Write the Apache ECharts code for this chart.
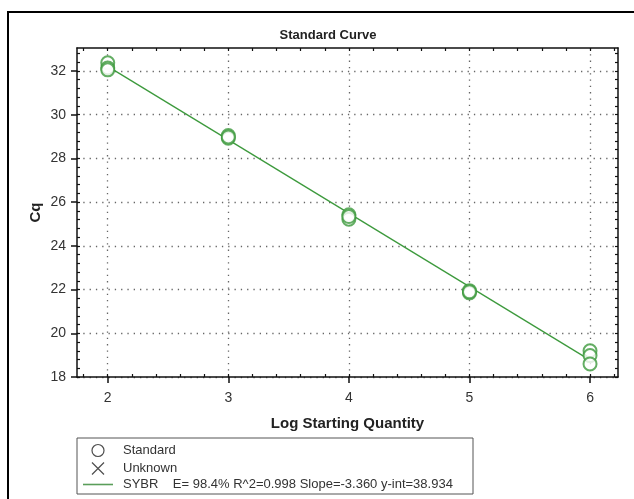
<!DOCTYPE html>
<html>
<head>
<meta charset="utf-8">
<script src="https://cdn.jsdelivr.net/npm/echarts@6/dist/echarts.min.js"></script>
<style>
html,body{margin:0;padding:0;background:#fff;}
#chart{width:634px;height:499px;}
</style>
</head>
<body>
<div id="chart"></div>
<script>
// ---- data ----
var stdX = [2, 2, 2, 3, 3, 3, 4, 4, 4, 5, 5, 5, 6, 6, 6];
var stdCq = [32.37, 32.14, 32.05, 29.05, 28.92, 28.98, 25.42, 25.22, 25.34, 21.95, 21.85, 21.9, 19.2, 18.98, 18.6];
var fitX = [2, 6];
var fitCq = [32.21, 18.77];
var xTicks = [2, 3, 4, 5, 6];
var yTicks = [18, 20, 22, 24, 26, 28, 30, 32];
var fitLabel = 'SYBR    E= 98.4% R^2=0.998 Slope=-3.360 y-int=38.934';

var X_MIN = 1.745, X_MAX = 6.232, Y_MIN = 18, Y_MAX = 33.05;
var xMinor = [], yMinor = [];
for (var i = 0; i <= 22; i++) xMinor.push(+(1.8 + i * 0.2).toFixed(2));
for (var j = 0; j <= 37; j++) yMinor.push(+(18 + j * 0.4).toFixed(2));

var FONT = '"Liberation Sans", Arial, sans-serif';
var GREEN = '#3d9a3d';

var stdData = stdX.map(function (x, k) { return [x, stdCq[k]]; });
var fitData = fitX.map(function (x, k) { return [x, fitCq[k]]; });

function hAxis(pos, opt) {
  return Object.assign({
    type: 'value', position: pos, min: X_MIN, max: X_MAX,
    axisLine: { show: true, onZero: false, lineStyle: { color: '#111', width: 1.5 } },
    axisLabel: { show: false }, axisTick: { show: false },
    splitLine: { show: false }
  }, opt);
}
function vAxis(pos, opt) {
  return Object.assign({
    type: 'value', position: pos, min: Y_MIN, max: Y_MAX,
    axisLine: { show: true, onZero: false, lineStyle: { color: '#111', width: 1.5 } },
    axisLabel: { show: false }, axisTick: { show: false },
    splitLine: { show: false }
  }, opt);
}
var gridLine = { show: true, lineStyle: { color: '#666', width: 1.3, type: [1.3, 5] } };

var chart = echarts.init(document.getElementById('chart'), null, { renderer: 'canvas' });
chart.setOption({
  backgroundColor: '#fff',
  animation: false,
  title: {
    text: 'Standard Curve', left: 323, top: 24, textAlign: 'center',
    textStyle: { fontFamily: FONT, fontSize: 13, fontWeight: 'bold', color: '#222' }
  },
  grid: { left: 77, right: 16, top: 48, bottom: 122, containLabel: false },
  xAxis: [
    hAxis('bottom', {
      name: 'Log Starting Quantity', nameLocation: 'middle', nameGap: 39,
      nameTextStyle: { fontFamily: FONT, fontSize: 15, fontWeight: 'bold', color: '#222' },
      axisLabel: { show: true, customValues: xTicks, fontFamily: FONT, fontSize: 14, color: '#333', margin: 14 },
      axisTick: { show: true, customValues: xTicks, inside: false, length: 6, lineStyle: { color: '#111', width: 1.5 } },
      splitLine: Object.assign({ customValues: xTicks }, gridLine)
    }),
    hAxis('bottom', {
      axisLine: { show: false },
      axisTick: { show: true, customValues: xMinor, inside: true, length: 3, lineStyle: { color: '#111', width: 1.2 } }
    }),
    hAxis('top', {
      axisTick: { show: true, customValues: xMinor, inside: true, length: 3, lineStyle: { color: '#111', width: 1.2 } }
    })
  ],
  yAxis: [
    vAxis('left', {
      name: 'Cq', nameLocation: 'middle', nameGap: 34, nameRotate: 90, nameMoveOverlap: false,
      nameTextStyle: { fontFamily: FONT, fontSize: 15, fontWeight: 'bold', color: '#222' },
      axisLabel: { show: true, customValues: yTicks, fontFamily: FONT, fontSize: 14, color: '#333', margin: 11 },
      axisTick: { show: true, customValues: yTicks, inside: false, length: 6, lineStyle: { color: '#111', width: 1.5 } },
      splitLine: Object.assign({ customValues: yTicks }, gridLine)
    }),
    vAxis('left', {
      axisLine: { show: false },
      axisTick: { show: true, customValues: yMinor, inside: true, length: 3, lineStyle: { color: '#111', width: 1.2 } }
    }),
    vAxis('right', {
      axisTick: { show: true, customValues: yMinor, inside: true, length: 3, lineStyle: { color: '#111', width: 1.2 } }
    })
  ],
  legend: {
    orient: 'vertical', left: 83, top: 442,
    itemWidth: 30, itemHeight: 12, itemGap: 1,
    padding: 0,
    textStyle: { fontFamily: FONT, fontSize: 13, color: '#333', padding: [0, 0, 0, 5], lineHeight: 12 },
    formatter: function (name) { return name === 'SYBR' ? fitLabel : name; },
    data: [
      { name: 'Standard', icon: 'circle', itemStyle: { color: 'none', borderColor: '#222', borderWidth: 1.2 } },
      { name: 'Unknown', icon: 'path://M0,0L10,10M10,0L0,10', itemStyle: { color: 'none', borderColor: '#222', borderWidth: 1.2 } },
      { name: 'SYBR', icon: 'path://M0,0L30,0L30,1.6L0,1.6Z', itemStyle: { color: '#5a9e5a', borderWidth: 0 } }
    ]
  },
  graphic: [
    { type: 'rect', shape: { x: 8, y: 12, width: 700, height: 600 }, style: { fill: 'none', stroke: '#000', lineWidth: 2 }, silent: true, z: 100 },
    { type: 'rect', shape: { x: 77, y: 438, width: 396, height: 56 }, style: { fill: 'none', stroke: '#555', lineWidth: 1 }, silent: true, z: 100 }
  ],
  series: [
    {
      name: 'SYBR', type: 'line', data: fitData, xAxisIndex: 0, yAxisIndex: 0,
      showSymbol: false, symbol: 'none',
      lineStyle: { color: GREEN, width: 1.3 }, itemStyle: { color: GREEN }, z: 3
    },
    {
      name: 'Standard', type: 'scatter', data: stdData, xAxisIndex: 0, yAxisIndex: 0,
      symbol: 'emptyCircle', symbolSize: 13,
      itemStyle: { color: GREEN, borderColor: GREEN, borderWidth: 1.3 }, z: 4
    },
    {
      name: 'Unknown', type: 'scatter', data: [], xAxisIndex: 0, yAxisIndex: 0,
      symbol: 'path://M0,0L10,10M10,0L0,10', symbolSize: 10,
      itemStyle: { color: 'none', borderColor: '#222', borderWidth: 1.2 }
    }
  ]
});
</script>
</body>
</html>
